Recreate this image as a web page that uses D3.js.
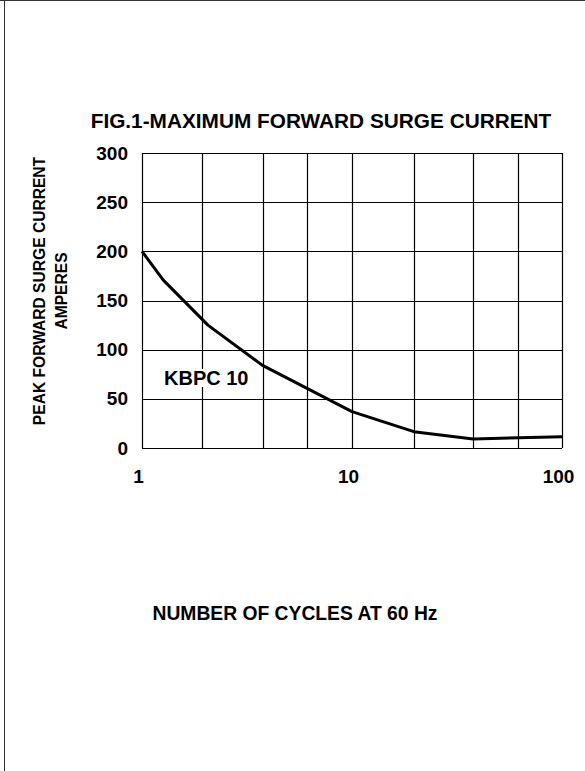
<!DOCTYPE html>
<html>
<head>
<meta charset="utf-8">
<script src="https://cdn.jsdelivr.net/npm/d3@7"></script>
<style>
  html, body { margin: 0; padding: 0; background: #fff; }
  svg { display: block; }
  text { font-family: Arial, "Liberation Sans", sans-serif; font-weight: bold; fill: #000; }
</style>
</head>
<body>
<svg id="chart"></svg>
<script>
/* ─── Data ──────────────────────────────────────────────────────────────── */

// surge curve
const cycles = [1, 1.26, 2.06, 3.75, 10, 19.7, 37.7, 100];
const amps   = [200, 171, 125, 84, 37, 16.6, 9.2, 11.5];

// the chart's own (uneven) vertical grid
const gridCycles = [1, 1.94, 3.75, 6.1, 10, 19.7, 37.7, 61.6, 100];
const yTicks     = [0, 50, 100, 150, 200, 250, 300];
const xTicks     = [1, 10, 100];

const TITLE   = 'FIG.1-MAXIMUM FORWARD SURGE CURRENT';
const Y_LABEL = ['PEAK FORWARD SURGE CURRENT', 'AMPERES'];
const X_LABEL = 'NUMBER OF CYCLES AT 60 Hz';
const SERIES  = 'KBPC 10';

/* ─── Layout ────────────────────────────────────────────────────────────── */

const W = 585, H = 771;
const plot = { left: 142, right: 562, top: 153, bottom: 448 };

const svg = d3.select('#chart').attr('width', W).attr('height', H);

// page frame (top and left edges only)
svg.append('line').attr('x1', 0).attr('x2', W).attr('y1', 0.5).attr('y2', 0.5)
  .attr('stroke', '#333').attr('stroke-width', 1);
svg.append('line').attr('x1', 4.5).attr('x2', 4.5).attr('y1', 0).attr('y2', H)
  .attr('stroke', '#333').attr('stroke-width', 1);

const x = d3.scaleLog().domain([1, 100]).range([plot.left, plot.right]);
const y = d3.scaleLinear().domain([0, 300]).range([plot.bottom, plot.top]);

/* ─── Grid ──────────────────────────────────────────────────────────────── */

const grid = svg.append('g').attr('stroke', '#000').attr('stroke-width', 1.2);

grid.selectAll('line.v')
  .data(gridCycles)
  .join('line')
  .attr('class', 'v')
  .attr('x1', d => Math.round(x(d)) + 0.5).attr('x2', d => Math.round(x(d)) + 0.5)
  .attr('y1', y(300)).attr('y2', y(0));

grid.selectAll('line.h')
  .data(yTicks)
  .join('line')
  .attr('class', 'h')
  .attr('x1', x(1)).attr('x2', x(100))
  .attr('y1', d => Math.round(y(d)) + 0.5).attr('y2', d => Math.round(y(d)) + 0.5);

/* ─── Tick labels ───────────────────────────────────────────────────────── */

const yAxis = d3.axisLeft(y).tickValues(yTicks).tickSize(0).tickPadding(14);
svg.append('g')
  .attr('transform', `translate(${plot.left},0)`)
  .call(yAxis)
  .call(g => g.select('.domain').remove())
  .call(g => g.selectAll('text').style('font-size', '19px'));

const xAxis = d3.axisBottom(x).tickValues(xTicks).tickFormat(d3.format('d')).tickSize(0).tickPadding(22);
svg.append('g')
  .attr('transform', `translate(-4,${plot.bottom})`)
  .call(xAxis)
  .call(g => g.select('.domain').remove())
  .call(g => g.selectAll('text').style('font-size', '19px'));

/* ─── Curve ─────────────────────────────────────────────────────────────── */

const line = d3.line()
  .x((d, i) => x(cycles[i]))
  .y(d => y(d));

svg.append('path')
  .datum(amps)
  .attr('fill', 'none')
  .attr('stroke', '#000')
  .attr('stroke-width', 3)
  .attr('stroke-linejoin', 'round')
  .attr('d', line);

/* ─── Series label (white box knocks out the grid) ──────────────────────── */

const lbl = svg.append('g');
const lt = lbl.append('text')
  .attr('x', 164).attr('y', 385)
  .style('font-size', '20px')
  .text(SERIES);
const bb = lt.node().getBBox();
lbl.insert('rect', 'text')
  .attr('x', bb.x - 1).attr('y', bb.y + 2).attr('width', bb.width + 2).attr('height', bb.height - 4)
  .attr('fill', '#fff');

/* ─── Titles ────────────────────────────────────────────────────────────── */

svg.append('text')
  .attr('x', 321).attr('y', 128)
  .attr('text-anchor', 'middle')
  .style('font-size', '20.8px')
  .text(TITLE);

svg.append('text')
  .attr('x', 295).attr('y', 620)
  .attr('text-anchor', 'middle')
  .style('font-size', '19.3px')
  .text(X_LABEL);

const yl = svg.append('g').attr('transform', 'translate(0,291) rotate(-90)');
yl.append('text').attr('x', 0).attr('y', 45).attr('text-anchor', 'middle')
  .style('font-size', '15.6px').text(Y_LABEL[0]);
yl.append('text').attr('x', 0).attr('y', 67).attr('text-anchor', 'middle')
  .style('font-size', '15.6px').text(Y_LABEL[1]);
</script>
</body>
</html>
